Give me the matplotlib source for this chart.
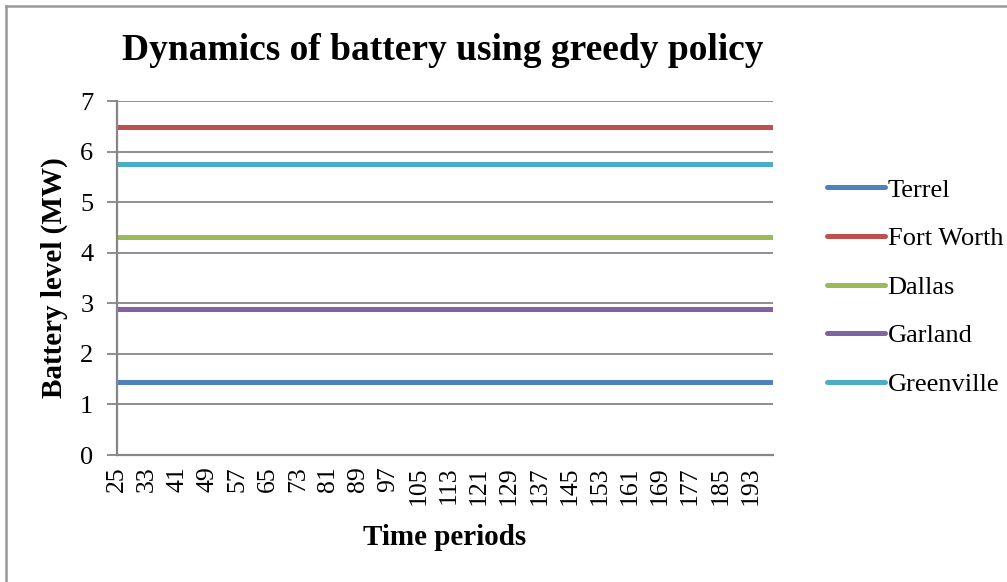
import numpy as np
import matplotlib
matplotlib.use('Agg')
from matplotlib import pyplot as plt
from matplotlib.lines import Line2D

periods = np.arange(25, 200)
series_names = ['Terrel', 'Fort Worth', 'Dallas', 'Garland', 'Greenville']
levels = [1.44, 6.48, 4.32, 2.88, 5.76]
colors = ['#4F81BD', '#C0504D', '#9BBB59', '#8064A2', '#4BACC6']
tick_labels = [str(p) for p in range(25, 200, 8)]

plt.rcParams['font.family'] = ['Liberation Serif', 'DejaVu Serif']
grey = '#868686'

fig = plt.figure(figsize=(10.07, 5.82), dpi=100)
ax = fig.add_axes([117/1007, 1-455/582, (773-117)/1007, (455-101)/582])

for name, lvl, c in zip(series_names, levels, colors):
    ax.plot(periods, np.full(len(periods), lvl), color=c, lw=3.6,
            solid_capstyle='round', label=name)

ax.set_xlim(periods[0], periods[-1])
ax.set_ylim(0, 7)
ax.set_yticks(range(0, 8))
ax.set_xticks(range(25, 200, 8))
ax.set_xticklabels(tick_labels, rotation=90)
ax.grid(axis='y', color=grey, lw=1.3)
ax.set_axisbelow(True)
for s in ['top', 'right']:
    ax.spines[s].set_visible(False)
for s in ['left', 'bottom']:
    ax.spines[s].set_color(grey)
    ax.spines[s].set_linewidth(1.6)
ax.tick_params(axis='y', length=7, width=1.3, color=grey, labelsize=19, pad=10)
ax.tick_params(axis='x', length=0, labelsize=18.5, pad=8)

ax.set_ylabel('Battery level (MW)', fontsize=21, fontweight='bold', labelpad=9)
ax.set_xlabel('Time periods', fontsize=21, fontweight='bold', labelpad=14)
fig.text(443/1007, 1-50/582, 'Dynamics of battery using greedy policy',
         ha='center', va='center', fontsize=27, fontweight='bold')

ax.legend(loc='center left', bbox_to_anchor=(827/1007, 1-287/582),
          bbox_transform=fig.transFigure, frameon=False, fontsize=19,
          handlelength=2.2, handletextpad=0.1, labelspacing=0.95,
          borderaxespad=0, borderpad=0)

# chart border (cropped at right and bottom)
fig.add_artist(Line2D([5.5/1007, 1], [1-5.5/582]*2, color='#999999', lw=1.8,
                      transform=fig.transFigure))
fig.add_artist(Line2D([5.5/1007]*2, [0, 1-5.5/582], color='#999999', lw=1.8,
                      transform=fig.transFigure))

fig.savefig('out.png', dpi=100)
